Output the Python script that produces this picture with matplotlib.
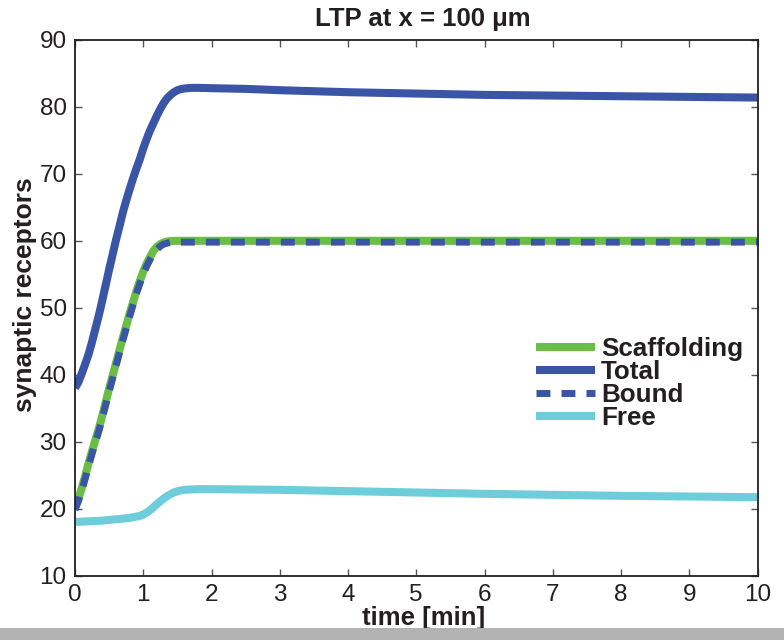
import matplotlib
matplotlib.use("Agg")
import matplotlib.pyplot as plt
from matplotlib.patches import Rectangle

plt.rcParams["font.family"] = ["Liberation Sans", "DejaVu Sans"]

# time samples [min]
time_min = [0.0, 0.05, 0.1, 0.15, 0.2, 0.25, 0.3, 0.35, 0.4, 0.45, 0.5,
            0.55, 0.6, 0.65, 0.7, 0.75, 0.8, 0.85, 0.9, 0.95, 1.0, 1.05,
            1.1, 1.15, 1.2, 1.25, 1.3, 1.35, 1.4, 1.45, 1.5, 1.55, 1.6,
            1.7, 1.8, 2.0, 2.5, 3, 4, 5, 6, 7, 8, 9, 10]

scaffolding = [20.3, 21.5, 23.1, 24.9, 26.8, 28.6, 30.3, 32.0, 33.9, 35.9,
               37.9, 39.8, 41.7, 43.6, 45.5, 47.3, 49.1, 50.8, 52.5, 54.0,
               55.4, 56.6, 57.6, 58.5, 59.1, 59.5, 59.75, 59.9, 59.95, 60.0,
               60.0, 60.0, 60.0, 60.0, 60.0, 60.0, 60.0, 60.0, 60.0, 60.0,
               60.0, 60.0, 60.0, 60.0, 60.0]

total = [38.0, 38.9, 40.2, 41.6, 43.1, 44.9, 46.9, 48.9, 51.1, 53.4,
         55.7, 57.9, 60.1, 62.1, 64.2, 66.0, 67.7, 69.3, 70.8, 72.2,
         73.8, 75.2, 76.5, 77.6, 78.7, 79.7, 80.6, 81.3, 81.8, 82.2,
         82.5, 82.65, 82.75, 82.85, 82.85, 82.8, 82.7, 82.5, 82.2, 82.0,
         81.8, 81.7, 81.6, 81.5, 81.4]

bound = [19.8, 21.1, 22.7, 24.5, 26.4, 28.2, 29.9, 31.6, 33.5, 35.5,
         37.5, 39.4, 41.3, 43.2, 45.1, 46.9, 48.7, 50.4, 52.1, 53.6,
         55.0, 56.2, 57.2, 58.1, 58.7, 59.2, 59.5, 59.65, 59.75, 59.8,
         59.8, 59.8, 59.8, 59.8, 59.8, 59.8, 59.8, 59.8, 59.8, 59.8,
         59.8, 59.8, 59.8, 59.8, 59.8]

free = [18.0, 18.02, 18.05, 18.07, 18.1, 18.12, 18.15, 18.17, 18.2, 18.25,
        18.3, 18.35, 18.4, 18.45, 18.5, 18.55, 18.6, 18.7, 18.8, 18.9,
        19.1, 19.4, 19.75, 20.2, 20.65, 21.1, 21.5, 21.85, 22.15, 22.4,
        22.6, 22.7, 22.8, 22.85, 22.9, 22.9, 22.85, 22.8, 22.6, 22.4,
        22.2, 22.05, 21.9, 21.8, 21.7]

x_ticks = list(range(0, 11))
y_ticks = list(range(10, 91, 10))

GREEN = "#6abd45"
BLUE = "#3a55a6"
CYAN = "#6dcddb"
INK = "#231f20"

fig = plt.figure(figsize=(7.84, 6.4), dpi=100)
fig.patches.append(Rectangle((0, 0), 1, 12 / 640, transform=fig.transFigure,
                             facecolor="#b3b3b3", edgecolor="none", zorder=0))

ax = fig.add_axes([75 / 784, 64.5 / 640, 682.5 / 784, 535.5 / 640])

ax.plot(time_min, scaffolding, color=GREEN, lw=5.8, solid_joinstyle="round",
        solid_capstyle="butt", label="Scaffolding")
ax.plot(time_min, total, color=BLUE, lw=5.8, solid_joinstyle="round",
        solid_capstyle="butt", label="Total")
ax.plot(time_min, bound, color=BLUE, lw=5.0, linestyle=(0, (2.0, 1.6)),
        dash_capstyle="butt", label="Bound")
ax.plot(time_min, free, color=CYAN, lw=5.8, solid_joinstyle="round",
        solid_capstyle="butt", label="Free")

ax.set_xlim(0, 10)
ax.set_ylim(10, 90)
ax.set_xticks(x_ticks)
ax.set_yticks(y_ticks)
ax.tick_params(direction="in", top=True, right=True, length=5, width=1,
               color="#555555", labelsize=17.5, labelcolor=INK, pad=6)
for s in ax.spines.values():
    s.set_color(INK)
    s.set_linewidth(1.3)

x_shift = 7 / 682.5
ax.set_title("LTP at x = 100 μm", fontsize=18.5, fontweight="bold", color=INK,
             pad=10, x=0.5 + x_shift)
ax.set_xlabel("time [min]", fontsize=18.5, fontweight="bold", color=INK)
ax.xaxis.set_label_coords(0.5 + x_shift, -30.5 / 535.5)
ax.set_ylabel("synaptic receptors", fontsize=19, fontweight="bold", color=INK)
ax.yaxis.set_label_coords(-38 / 682.5, (575.5 - 295) / 535.5)

leg = ax.legend(loc="upper left", bbox_to_anchor=(536 / 784, 1 - 337 / 640),
                bbox_transform=fig.transFigure, frameon=False,
                prop={"size": 18.7, "weight": "bold"}, handlelength=2.27,
                handletextpad=0.23, labelspacing=-0.04, borderaxespad=0,
                borderpad=0)
for txt in leg.get_texts():
    txt.set_color(INK)

fig.savefig("out.png", dpi=100)
